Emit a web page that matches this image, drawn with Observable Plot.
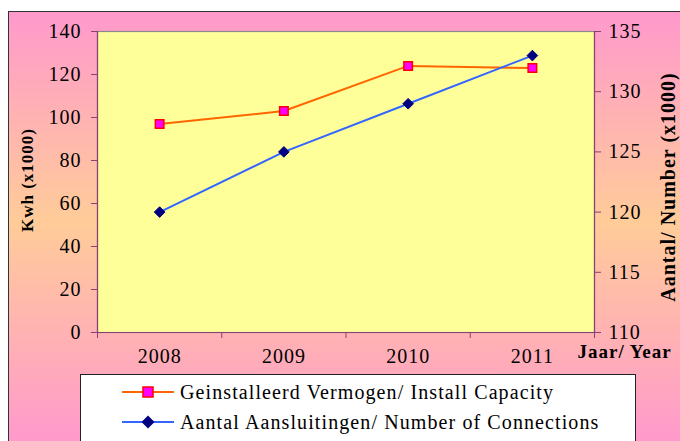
<!DOCTYPE html>
<html><head><meta charset="utf-8">
<script src="https://cdn.jsdelivr.net/npm/d3@7"></script>
<script src="https://cdn.jsdelivr.net/npm/@observablehq/plot@0.6"></script>
<style>
body{margin:0;background:#fff;}
#wrap{position:relative;width:680px;height:441px;overflow:hidden;font-family:"Liberation Serif","Times New Roman",serif;}
#bg{position:absolute;left:8px;top:11px;width:700px;height:460px;border-left:1.5px solid #333;border-top:1.5px solid #333;
 background:linear-gradient(to bottom,#ff99cc 0px,#ffcc99 210px,#ff99cc 430px);}
#chart{position:absolute;left:0;top:0;}
#legend{position:absolute;left:80px;top:374px;width:556px;height:90px;background:#fff;border:1.5px solid #222;box-sizing:border-box;}
.row{position:absolute;left:0;height:30px;display:flex;align-items:center;font-size:20px;letter-spacing:1.1px;color:#000;white-space:nowrap;}
.row svg{margin-left:41px;margin-right:6px;}
</style></head>
<body>
<div id="wrap">
 <div id="bg"></div>
 <div id="chart"></div>
 <div id="legend"></div>
</div>
<script>
const years = [2008, 2009, 2010, 2011];
const capacity = [97, 103, 124, 123];          // Kwh (x1000), left axis
const connections = [120, 125, 129, 133];      // Number (x1000), right axis
const leftTicks = [0, 20, 40, 60, 80, 100, 120, 140];
const rightTicks = [110, 115, 120, 125, 130, 135];
const seriesNames = ["Geinstalleerd Vermogen/ Install Capacity", "Aantal Aansluitingen/ Number of Connections"];
const xTitle = "Jaar/ Year";
const yLeftTitle = "Kwh (x1000)";
const yRightTitle = "Aantal/ Number (x1000)";

// right axis [110,135] mapped onto left scale [0,140]
const rMin = 110, rMax = 135, lMax = 140;
const toLeft = v => (v - rMin) / (rMax - rMin) * lMax;
const fromLeft = v => String(Math.round(v / lMax * (rMax - rMin) + rMin));

const rows = years.map((y, i) => ({year: y, cap: capacity[i], conn: toLeft(connections[i])}));
const bounds = [...years.map(y => y - 0.5), years[years.length - 1] + 0.5];

const axisColor = "#8e3f78";
const font = "Liberation Serif, Times New Roman, serif";

const chart = Plot.plot({
  width: 680, height: 441,
  marginLeft: 97, marginRight: 86, marginTop: 31, marginBottom: 109,
  style: {background: "transparent", fontFamily: font, fontSize: "20px", letterSpacing: "1px", color: "#000", overflow: "visible"},
  x: {domain: [bounds[0], bounds[bounds.length - 1]], axis: null, label: null},
  y: {domain: [0, lMax], axis: null, label: null},
  marks: [
    Plot.frame({fill: "#ffff99", stroke: "#8a8a8a", strokeWidth: 1.2}),
    Plot.ruleX([bounds[0]], {stroke: axisColor, strokeWidth: 1.2}),
    Plot.ruleX([bounds[bounds.length - 1]], {stroke: axisColor, strokeWidth: 1.2}),
    Plot.ruleY([0], {stroke: axisColor, strokeWidth: 1.2}),
    Plot.axisY(leftTicks, {anchor: "left", label: null, tickSize: 6, tickPadding: 10, stroke: axisColor, fontSize: 20, fill: "#000"}),
    Plot.axisY(rightTicks.map(toLeft), {anchor: "right", label: null, tickSize: 6, tickPadding: 8, stroke: axisColor, fontSize: 20, fill: "#000", tickFormat: fromLeft}),
    Plot.axisX(bounds, {anchor: "bottom", label: null, tickSize: 6, tickFormat: () => "", stroke: axisColor}),
    Plot.text(years, {x: d => d, text: d => String(d), frameAnchor: "bottom", dy: 30, fontSize: 20, fill: "#000"}),
    Plot.line(rows, {x: "year", y: "cap", stroke: "#ff6600", strokeWidth: 2}),
    Plot.line(rows, {x: "year", y: "conn", stroke: "#3366ff", strokeWidth: 2}),
    Plot.dot(rows, {x: "year", y: "cap", symbol: "square", r: 4.8, fill: "#ff00ff", stroke: "#ff0000", strokeWidth: 1.5}),
    Plot.dot(rows, {x: "year", y: "conn", symbol: "diamond2", r: 4.8, fill: "#000080", stroke: "#000080", strokeWidth: 1}),
    Plot.text([yLeftTitle], {frameAnchor: "left", textAnchor: "middle", dx: -70, dy: -2, rotate: -90, fontWeight: "bold", fontSize: 17, fill: "#000"}),
    Plot.text([yRightTitle], {frameAnchor: "right", textAnchor: "middle", dx: 74, dy: 5, rotate: -90, fontWeight: "bold", fontSize: 20, fill: "#000"}),
    Plot.text([xTitle], {frameAnchor: "bottom-right", textAnchor: "start", dx: -17, dy: 25, fontWeight: "bold", fontSize: 19, fill: "#000"})
  ]
});
document.getElementById("chart").appendChild(chart);

// legend
const legend = document.getElementById("legend");
const swatches = [
  `<line x1="0" y1="8" x2="52" y2="8" stroke="#ff6600" stroke-width="2"/><rect x="21" y="3" width="10" height="10" fill="#ff00ff" stroke="#ff0000" stroke-width="1.5"/>`,
  `<line x1="0" y1="8" x2="52" y2="8" stroke="#3366ff" stroke-width="2"/><path d="M26,1.5 L32.5,8 L26,14.5 L19.5,8 Z" fill="#000080"/>`
];
seriesNames.forEach((name, i) => {
  const row = document.createElement("div");
  row.className = "row";
  row.style.top = (2 + i * 30) + "px";
  row.innerHTML = `<svg width="52" height="16">${swatches[i]}</svg><span>${name}</span>`;
  legend.appendChild(row);
});
</script>
</body></html>
